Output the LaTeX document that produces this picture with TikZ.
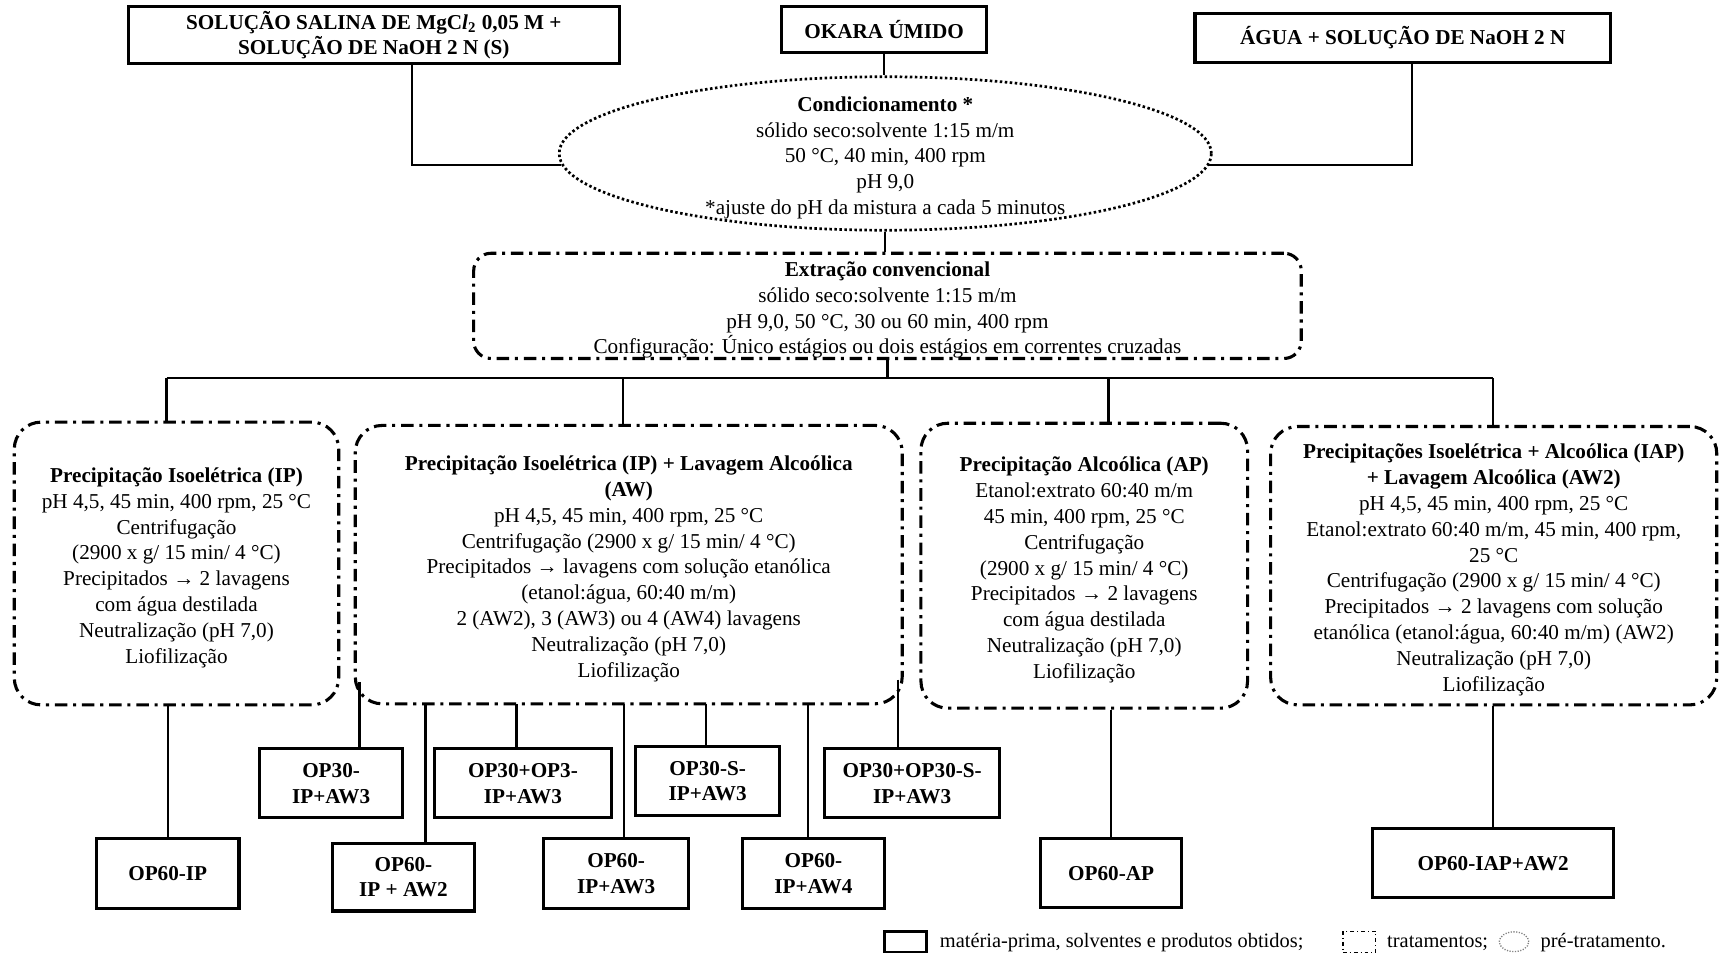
\documentclass[tikz,border=0pt]{standalone}
\usepackage{fontspec}
\setmainfont{Liberation Serif}
\usetikzlibrary{shapes.geometric,calc}
% strut that lowers a multi-line block slightly inside its frame
\newcommand{\topstrut}{\rule{0pt}{12pt}}
\begin{document}
\begin{tikzpicture}[x=0.02cm,y=-0.02cm,
  every node/.style={font=\fontsize{11}{13.4}\selectfont, inner sep=0pt, align=center},
  boldtext/.style={font=\fontsize{11}{13.4}\selectfont\bfseries},
  legendtext/.style={font=\fontsize{10.6}{12}\selectfont, anchor=west},
  rawbox/.style={draw, rectangle, line width=1.6pt},
  treat/.style={draw, rectangle, line width=1.6pt, rounded corners=14pt,
    dash pattern=on 6.5pt off 3pt on 1.6pt off 3pt},
  pretreat/.style={draw, ellipse, line width=1.4pt, dash pattern=on 1.3pt off 1.3pt},
  conn/.style={line width=1.2pt},
]
\fill[white] (0,0) rectangle (1568,873);
\useasboundingbox (0,0) rectangle (1568,873);

% raw materials and solvents
\node[rawbox, boldtext, minimum width=8.96cm, minimum height=1.04cm] (sal) at (341,32)
  {SOLUÇÃO SALINA DE MgC\textit{l}\textsubscript{2} 0,05 M +\\SOLUÇÃO DE NaOH 2 N (S)};
\node[rawbox, boldtext, minimum width=3.74cm, minimum height=0.84cm] (okara) at (806.5,27) {OKARA ÚMIDO};
\node[rawbox, boldtext, minimum width=7.58cm, minimum height=0.90cm] (agua) at (1279.5,34.5) {ÁGUA + SOLUÇÃO DE NaOH 2 N};

% pre-treatment
\node[pretreat, minimum width=11.9cm, minimum height=2.8cm] (cond) at (807.5,140) {};
\node (condtxt) at (807.5,144) {\textbf{Condicionamento *}\\sólido seco:solvente 1:15 m/m\\50 °C, 40 min, 400 rpm\\pH 9,0\\*ajuste do pH da mistura a cada 5 minutos};

% conventional extraction
\node[treat, rounded corners=9pt, minimum width=15.1cm, minimum height=1.92cm] (ext) at (809.5,279)
  {\topstrut\textbf{Extração convencional}\\sólido seco:solvente 1:15 m/m\\pH 9,0, 50 °C, 30 ou 60 min, 400 rpm\\Configuração: Único estágios ou dois estágios em correntes cruzadas};

% treatments
\node[treat, minimum width=5.92cm, minimum height=5.16cm] (ip) at (161,514)
  {\topstrut\textbf{Precipitação Isoelétrica (IP)}\\pH 4,5, 45 min, 400 rpm, 25 °C\\Centrifugação\\(2900 x g/ 15 min/ 4 °C)\\Precipitados → 2 lavagens\\com água destilada\\Neutralização (pH 7,0)\\Liofilização};
\node[treat, minimum width=9.98cm, minimum height=5.08cm] (aw) at (573.5,515)
  {\topstrut\textbf{Precipitação Isoelétrica (IP) + Lavagem Alcoólica}\\\textbf{(AW)}\\pH 4,5, 45 min, 400 rpm, 25 °C\\Centrifugação (2900 x g/ 15 min/ 4 °C)\\Precipitados → lavagens com solução etanólica\\(etanol:água, 60:40 m/m)\\2 (AW2), 3 (AW3) ou 4 (AW4) lavagens\\Neutralização (pH 7,0)\\Liofilização};
\node[treat, minimum width=5.96cm, minimum height=5.2cm] (ap) at (989,516)
  {\topstrut\textbf{Precipitação Alcoólica (AP)}\\Etanol:extrato 60:40 m/m\\45 min, 400 rpm, 25 °C\\Centrifugação\\(2900 x g/ 15 min/ 4 °C)\\Precipitados → 2 lavagens\\com água destilada\\Neutralização (pH 7,0)\\Liofilização};
\node[treat, minimum width=8.14cm, minimum height=5.08cm] (iap) at (1362.5,516)
  {\topstrut\textbf{Precipitações Isoelétrica + Alcoólica (IAP)}\\\textbf{+ Lavagem Alcoólica (AW2)}\\pH 4,5, 45 min, 400 rpm, 25 °C\\Etanol:extrato 60:40 m/m, 45 min, 400 rpm,\\25 °C\\Centrifugação (2900 x g/ 15 min/ 4 °C)\\Precipitados → 2 lavagens com solução\\etanólica (etanol:água, 60:40 m/m) (AW2)\\Neutralização (pH 7,0)\\Liofilização};

% products
\node[rawbox, boldtext, minimum width=2.6cm, minimum height=1.26cm] (p30a) at (302,714.5) {OP30-\\IP+AW3};
\node[rawbox, boldtext, minimum width=3.24cm, minimum height=1.26cm] (p30b) at (477,714.5) {OP30+OP3-\\IP+AW3};
\node[rawbox, boldtext, minimum width=2.62cm, minimum height=1.26cm] (p30c) at (645.5,712.5) {OP30-S-\\IP+AW3};
\node[rawbox, boldtext, minimum width=3.2cm, minimum height=1.26cm] (p30d) at (832,714.5) {OP30+OP30-S-\\IP+AW3};
\node[rawbox, boldtext, minimum width=2.6cm, minimum height=1.28cm] (p60ip) at (153,797) {OP60-IP};
\node[rawbox, boldtext, minimum width=2.6cm, minimum height=1.24cm] (p60aw2) at (368,800) {OP60-\\IP + AW2};
\node[rawbox, boldtext, minimum width=2.64cm, minimum height=1.28cm] (p60aw3) at (562,797) {OP60-\\IP+AW3};
\node[rawbox, boldtext, minimum width=2.6cm, minimum height=1.28cm] (p60aw4) at (742,797) {OP60-\\IP+AW4};
\node[rawbox, boldtext, minimum width=2.58cm, minimum height=1.26cm] (p60ap) at (1013.5,796.5) {OP60-AP};
\node[rawbox, boldtext, minimum width=4.4cm, minimum height=1.26cm] (p60iap) at (1362,787.5) {OP60-IAP+AW2};

% connectors into the pre-treatment
\draw[conn] ([xshift=0.7cm]sal.south) |- (cond.182);
\draw[conn] ([xshift=0.17cm]agua.south) |- (cond.-2);
\draw[conn] (okara.south) -- (okara.south |- cond.north);
\draw[conn] (cond.south) -- (cond.south |- ext.north);

% distribution bus
\coordinate (d1) at (152,345);
\coordinate (d2) at (568,345);
\coordinate (d3) at (1011,345);
\coordinate (d4) at (1362,345);
\draw[conn] (ext.south) -- (ext.south |- d1);
\draw[conn] (d1) -- (d4);
\draw[conn] (d1) -- (d1 |- ip.north);
\draw[conn] (d2) -- (d2 |- aw.north);
\draw[conn] (d3) -- (d3 |- ap.north);
\draw[conn] (d4) -- (d4 |- iap.north);

% treatments to products
\draw[conn] (p60ip.north |- ip.south) -- (p60ip.north);
\draw[conn] (p60ap.north |- ap.south) -- (p60ap.north);
\draw[conn] (p60iap.north |- iap.south) -- (p60iap.north);
\coordinate (a1) at (328,622);
\coordinate (a2) at (388,642);
\coordinate (a3) at (471,642);
\coordinate (a4) at (569,642);
\coordinate (a5) at (644,642);
\coordinate (a6) at (737,642);
\coordinate (a7) at (819,620);
\draw[conn] (a1) -- (a1 |- p30a.north);
\draw[conn] (a2) -- (a2 |- p60aw2.north);
\draw[conn] (a3) -- (a3 |- p30b.north);
\draw[conn] (a4) -- (a4 |- p60aw3.north);
\draw[conn] (a5) -- (a5 |- p30c.north);
\draw[conn] (a6) -- (a6 |- p60aw4.north);
\draw[conn] (a7) -- (a7 |- p30d.north);

% legend
\node[draw, line width=1.3pt, minimum width=0.76cm, minimum height=0.38cm] (lg1) at (826,859) {};
\node[legendtext] (lt1) at (857,860) {matéria-prima, solventes e produtos obtidos;};
\node[draw, line width=0.6pt, dash pattern=on 2pt off 1.5pt on 0.6pt off 1.5pt, minimum width=0.6cm, minimum height=0.38cm] (lg2) at (1240,859) {};
\node[legendtext] (lt2) at (1265,860) {tratamentos;};
\node[draw=gray, ellipse, line width=0.7pt, dash pattern=on 0.6pt off 0.8pt, minimum width=0.54cm, minimum height=0.36cm] (lg3) at (1381,859) {};
\node[legendtext] (lt3) at (1405,860) {pré-tratamento.};
\end{tikzpicture}
\end{document}
